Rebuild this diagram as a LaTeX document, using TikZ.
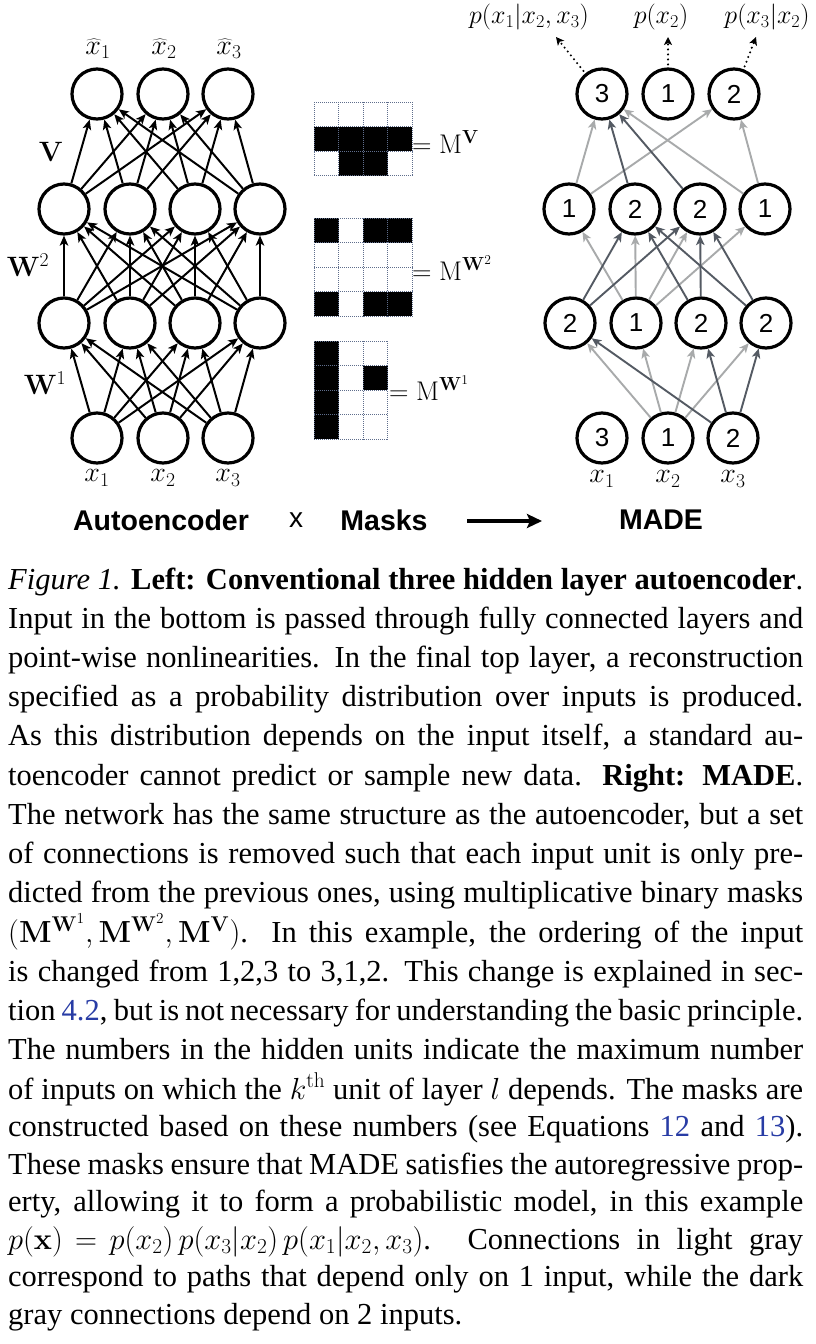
\documentclass[tikz,border=0pt]{standalone}
\usepackage{fix-cm}
\usepackage[no-math]{fontspec}
\setmainfont{Liberation Serif}
\setsansfont{Liberation Sans}
\usetikzlibrary{arrows.meta}
\definecolor{lightg}{RGB}{168,170,171}
\definecolor{darkg}{RGB}{84,90,99}
\definecolor{gridc}{RGB}{95,110,140}
\definecolor{linkblue}{RGB}{40,60,165}
\newcommand\capln[3]{\node[capt] (cap#1) at (8,#2) {\makebox[795pt][s]{#3}};}
\newcommand\caplast[3]{\node[capt] (cap#1) at (8,#2) {#3};}
\begin{document}
\begin{tikzpicture}[x=1pt,y=-1pt,
  neuron/.style={circle,draw,line width=3.2pt,minimum size=50pt,inner sep=0pt,font=\sffamily\fontsize{26}{26}\selectfont},
  ae/.style={-{Stealth[length=10pt,width=8.5pt,inset=2.5pt]},line width=2pt},
  lg/.style={-{Stealth[length=9.5pt,width=8.5pt,inset=2.5pt]},line width=1.9pt,draw=lightg,fill=lightg},
  dg/.style={-{Stealth[length=9.5pt,width=8.5pt,inset=2.5pt]},line width=1.9pt,draw=darkg,fill=darkg},
  dotarrow/.style={-{Stealth[length=8pt,width=8pt,inset=2pt]},line width=2.3pt,line cap=round,dash pattern=on 0pt off 5pt,shorten <=3pt},
  mlabel/.style={inner sep=0pt,font=\fontsize{26}{30}\selectfont},
  xlabel/.style={inner sep=0pt,font=\fontsize{28}{30}\selectfont},
  masklabel/.style={inner sep=0pt,anchor=west,font=\fontsize{27}{30}\selectfont},
  gridl/.style={draw=gridc,line width=0.9pt,dash pattern=on 1pt off 1pt},
  bigsf/.style={inner sep=0pt,font=\sffamily\bfseries\fontsize{28.5}{30}\selectfont},
  smallsf/.style={inner sep=0pt,font=\sffamily\fontsize{28}{30}\selectfont},
  capt/.style={anchor=base west,inner sep=0pt,font=\fontsize{30.5}{38}\selectfont}
]
\fill[white] (0,0) rectangle (815,1344);
\useasboundingbox (0,0) rectangle (815,1344);

% ---------------- left autoencoder ----------------
\foreach \x [count=\i] in {97,163,228} {
  \node[neuron] (lo\i) at (\x,94) {};
  \node[neuron] (li\i) at (\x,438) {};
}
\foreach \x [count=\i] in {64,130,195,260} {
  \node[neuron] (lhb\i) at (\x,209) {};
  \node[neuron] (lha\i) at (\x,323) {};
}
\foreach \i in {1,2,3} {
  \foreach \j in {1,2,3,4} {
    \draw[ae] (li\i) -- (lha\j);
    \draw[ae] (lhb\j) -- (lo\i);
  }
}
\foreach \i in {1,2,3,4} {
  \foreach \j in {1,2,3,4} {
    \draw[ae] (lha\i) -- (lhb\j);
  }
}
\node[xlabel] (xh1) at (98,49) {$\widehat{x}_1$};
\node[xlabel] (xh2) at (164,49) {$\widehat{x}_2$};
\node[xlabel] (xh3) at (229,49) {$\widehat{x}_3$};
\node[xlabel] (xl1) at (97,478) {$x_1$};
\node[xlabel] (xl2) at (163,478) {$x_2$};
\node[xlabel] (xl3) at (228,478) {$x_3$};
\node[xlabel] (lV) at (51,152) {$\mathbf{V}$};
\node[xlabel] (lW2) at (28,265) {$\mathbf{W}^2$};
\node[xlabel] (lW1) at (45,383) {$\mathbf{W}^1$};

% ---------------- masks ----------------
\def\cs{24.6}
% M^V : 3 rows x 4 cols
\foreach \r/\c in {2/1,2/2,2/3,2/4,3/2,3/3}
  \fill ({314+(\c-1)*\cs},{102+(\r-1)*\cs}) rectangle ++(\cs,\cs);
\foreach \k in {0,...,4} \draw[gridl] ({314+\k*\cs},102) -- ++(0,{3*\cs});
\foreach \k in {0,...,3} \draw[gridl] (314,{102+\k*\cs}) -- ++({4*\cs},0);
\node[masklabel] (mV) at (412,142) {$=\mathrm{M}^{\mathbf{V}}$};
% M^W2 : 4 rows x 4 cols
\foreach \r/\c in {1/1,1/3,1/4,4/1,4/3,4/4}
  \fill ({314+(\c-1)*\cs},{218+(\r-1)*\cs}) rectangle ++(\cs,\cs);
\foreach \k in {0,...,4} \draw[gridl] ({314+\k*\cs},218) -- ++(0,{4*\cs});
\foreach \k in {0,...,4} \draw[gridl] (314,{218+\k*\cs}) -- ++({4*\cs},0);
\node[masklabel] (mW2) at (412,268) {$=\mathrm{M}^{\mathbf{W}^2}$};
% M^W1 : 4 rows x 3 cols
\foreach \r/\c in {1/1,2/1,3/1,4/1,2/3}
  \fill ({314+(\c-1)*\cs},{341+(\r-1)*\cs}) rectangle ++(\cs,\cs);
\foreach \k in {0,...,3} \draw[gridl] ({314+\k*\cs},341) -- ++(0,{4*\cs});
\foreach \k in {0,...,4} \draw[gridl] (314,{341+\k*\cs}) -- ++({3*\cs},0);
\node[masklabel] (mW1) at (389,388) {$=\mathrm{M}^{\mathbf{W}^1}$};

% ---------------- MADE ----------------
\node[neuron] (mo1) at (602,94) {3};
\node[neuron] (mo2) at (668,94) {1};
\node[neuron] (mo3) at (734,94) {2};
\node[neuron] (mb1) at (569,209) {1};
\node[neuron] (mb2) at (635,209) {2};
\node[neuron] (mb3) at (700,209) {2};
\node[neuron] (mb4) at (765,209) {1};
\node[neuron] (ma1) at (570,323) {2};
\node[neuron] (ma2) at (636,323) {1};
\node[neuron] (ma3) at (701,323) {2};
\node[neuron] (ma4) at (766,323) {2};
\node[neuron] (mi1) at (602,438) {3};
\node[neuron] (mi2) at (668,438) {1};
\node[neuron] (mi3) at (733,438) {2};
% light gray (depend on 1 input)
\foreach \j in {1,2,3,4} \draw[lg] (mi2) -- (ma\j);
\foreach \j in {1,2,3,4} \draw[lg] (ma2) -- (mb\j);
\foreach \s/\t in {mb1/mo1,mb1/mo3,mb4/mo1,mb4/mo3} \draw[lg] (\s) -- (\t);
% dark gray (depend on 2 inputs)
\foreach \j in {1,3,4} \draw[dg] (mi3) -- (ma\j);
\foreach \s in {ma1,ma3,ma4} { \draw[dg] (\s) -- (mb2); \draw[dg] (\s) -- (mb3); }
\draw[dg] (mb2) -- (mo1);
\draw[dg] (mb3) -- (mo1);
% outputs
\coordinate (t1) at (556,37);
\coordinate (t2) at (668,37);
\coordinate (t3) at (756,37);
\draw[dotarrow] (mo1) -- (t1);
\draw[dotarrow] (mo2) -- (t2);
\draw[dotarrow] (mo3) -- (t3);
\node[mlabel] (p1) at (529,17) {$p(x_1|x_2,x_3)$};
\node[mlabel] (p2) at (661,17) {$p(x_2)$};
\node[mlabel] (p3) at (767,17) {$p(x_3|x_2)$};
\node[xlabel] (mx1) at (602,479) {$x_1$};
\node[xlabel] (mx2) at (668,479) {$x_2$};
\node[xlabel] (mx3) at (733,479) {$x_3$};

% ---------------- bottom titles ----------------
\node[bigsf] (tAE) at (161,520) {Autoencoder};
\node[smallsf] (tx) at (296,520) {x};
\node[bigsf] (tMasks) at (384,520) {Masks};
\node[bigsf] (tMADE) at (661,520) {MADE};
\coordinate (aL) at (467,521);
\coordinate (aR) at (542,521);
\draw[-{Stealth[length=15pt,width=14pt,inset=3pt]},line width=4.2pt] (aL) -- (aR);

% ---------------- caption ----------------
\capln{1}{589}{\textit{Figure 1.} \textbf{Left: Conventional three hidden layer autoencoder}.}
\capln{2}{628.2}{Input in the bottom is passed through fully connected layers and}
\capln{3}{667.5}{point-wise nonlinearities. In the final top layer, a reconstruction}
\capln{4}{706.7}{specified as a probability distribution over inputs is produced.}
\capln{5}{745.9}{As this distribution depends on the input itself, a standard au-}
\capln{6}{785.2}{toencoder cannot predict or sample new data. \textbf{Right: MADE}.}
\capln{7}{824.4}{The network has the same structure as the autoencoder, but a set}
\capln{8}{863.6}{of connections is removed such that each input unit is only pre-}
\capln{9}{902.8}{dicted from the previous ones, using multiplicative binary masks}
\capln{10}{942.1}{\mbox{$(\mathbf{M}^{\mathbf{W}^1}, \mathbf{M}^{\mathbf{W}^2}, \mathbf{M}^{\mathbf{V}})$}. In this example, the ordering of the input}
\capln{11}{981.3}{is changed from 1,2,3 to 3,1,2. This change is explained in sec-}
\capln{12}{1020.5}{tion \textcolor{linkblue}{4.2}, but is not necessary for understanding the basic principle.}
\capln{13}{1059.8}{The numbers in the hidden units indicate the maximum number}
\capln{14}{1099}{of inputs on which the \mbox{$k^{\mathrm{th}}$} unit of layer \mbox{$l$} depends. The masks are}
\capln{15}{1136.5}{constructed based on these numbers (see Equations \textcolor{linkblue}{12} and \textcolor{linkblue}{13}).}
\capln{16}{1174}{These masks ensure that MADE satisfies the autoregressive prop-}
\capln{17}{1211.5}{erty, allowing it to form a probabilistic model, in this example}
\capln{18}{1249}{\thickmuskip=5mu plus 1mu\relax $p(\mathbf{x}) = p(x_2)\,p(x_3|x_2)\,p(x_1|x_2,x_3)$. Connections in light gray}
\capln{19}{1286.5}{correspond to paths that depend only on 1 input, while the dark}
\caplast{20}{1324}{gray connections depend on 2 inputs.}
\end{tikzpicture}
\end{document}
